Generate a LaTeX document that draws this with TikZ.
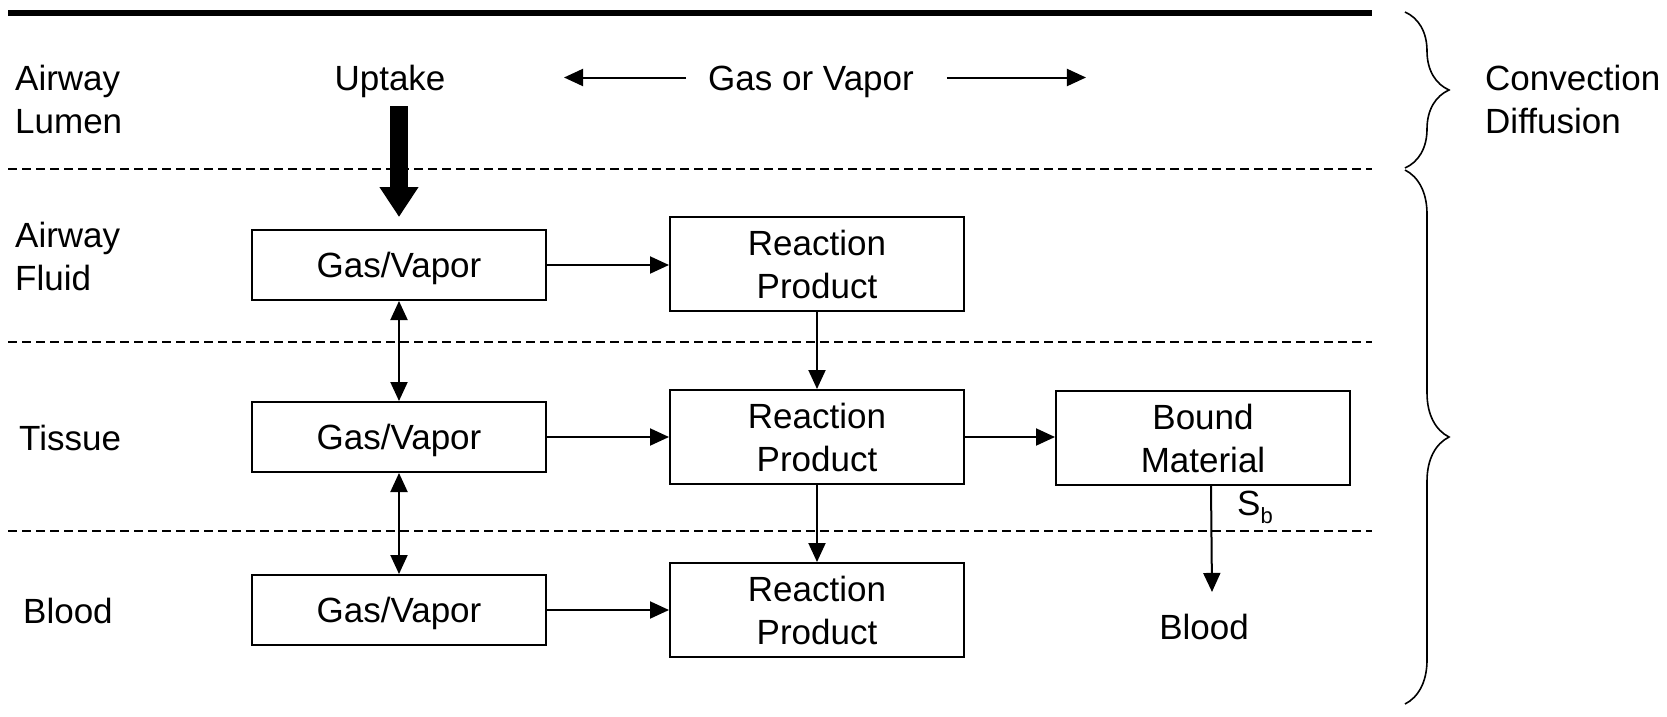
\documentclass[tikz,border=0pt]{standalone}
\usepackage{fontspec}
\setmainfont{Liberation Sans}
\usetikzlibrary{arrows.meta,decorations.pathreplacing,calc}
\begin{document}
\begin{tikzpicture}[x=1pt,y=-1pt,
  every node/.style={font=\fontsize{35}{43}\selectfont, inner sep=0pt},
  box/.style={draw, line width=2pt, minimum width=294pt, align=center},
  gv/.style={box, minimum height=70pt, text height=25pt, text depth=0pt},
  rp/.style={box, minimum height=94pt},
  conn/.style={line width=2pt, -{Triangle[length=19pt,width=17pt]}},
  both/.style={line width=2pt, {Triangle[length=19pt,width=17pt]}-{Triangle[length=19pt,width=17pt]}},
  layer/.style={line width=2pt, dash pattern=on 9pt off 5pt},
  brc/.style={line width=1.6pt, decorate, decoration={brace, amplitude=44pt, aspect=0.5}},
  lbl/.style={align=left, anchor=west}
]
\useasboundingbox (0,0) rectangle (1667,717);

% layer boundaries
\draw[line width=6.5pt] (8,13) -- (1372,13);
\draw[layer] (8,169) -- (1372,169);
\draw[layer] (8,342) -- (1372,342);
\draw[layer] (8,530.5) -- (1372,530.5);

% left labels
\node[lbl] (lumen) at (15,99) {Airway\\Lumen};
\node[lbl] (fluid) at (15,256) {Airway\\Fluid};
\node[anchor=base west] (tissue) at (19,450) {Tissue};
\node[anchor=base west] (blood) at (23,623.5) {Blood};

% top labels
\node[anchor=base] (uptake) at (390,90) {Uptake};
\node[anchor=base] (gov) at (811,90) {Gas or Vapor};
\draw[conn] ($(gov.base west)+(-22,-12.5)$) -- ++(-122,0);
\draw[conn] ($(gov.base east)+(33,-12.5)$) -- ++(139,0);

% boxes
\node[gv] (gv1) at (399,265) {Gas/Vapor};
\node[gv] (gv2) at (399,437) {Gas/Vapor};
\node[gv] (gv3) at (399,610) {Gas/Vapor};
\node[rp] (rp1) at (817,264) {Reaction\\Product};
\node[rp] (rp2) at (817,437) {Reaction\\Product};
\node[rp] (rp3) at (817,610) {Reaction\\Product};
\node[rp] (bm) at (1203,438) {Bound\\Material};
\node[anchor=base] (bloodR) at (1204,639.5) {Blood};

% uptake arrow
\draw[line width=18pt, -{Triangle[length=30pt,width=37pt]}]
  ($(uptake.south -| gv1.north)+(0,9)$) -- ([yshift=12pt]gv1.north);

% connectors
\draw[conn] (gv1.east) -- (gv1.east -| rp1.west);
\draw[conn] (gv2.east) -- (gv2.east -| rp2.west);
\draw[conn] (gv3.east) -- (gv3.east -| rp3.west);
\draw[both] (gv1) -- (gv2);
\draw[both] (gv2) -- (gv3);
\draw[conn] (rp1) -- (rp2);
\draw[conn] (rp2) -- (rp3);
\draw[conn] (rp2.east) -- (rp2.east -| bm.west);
\draw[conn] ([xshift=8pt]bm.south) -- ([xshift=8pt,yshift=22pt]bloodR.north);
\node[anchor=base west] (sb) at (1237,515) {S\raisebox{-8pt}{\fontsize{22}{22}\selectfont b}};

% braces
\draw[brc] (1405,12) -- (1405,168);
\draw[brc] (1405,170) -- (1405,704);
\node[lbl] (conv) at (1485,99) {Convection\\Diffusion};
\end{tikzpicture}
\end{document}
